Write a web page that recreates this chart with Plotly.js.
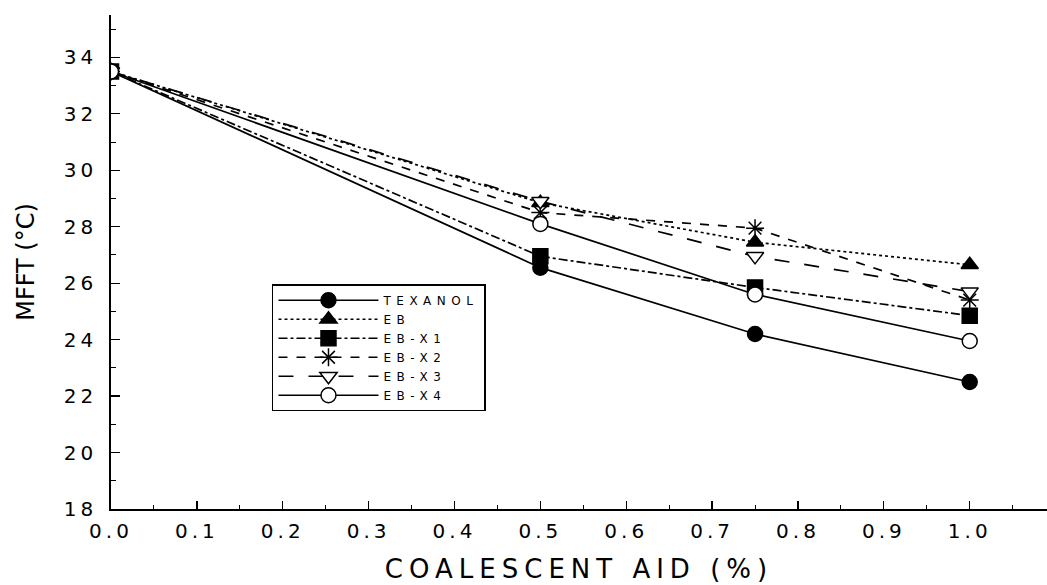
<!DOCTYPE html>
<html>
<head>
<meta charset="utf-8">
<script src="https://cdn.plot.ly/plotly-3.0.1.min.js"></script>
<style>
  html, body { margin: 0; padding: 0; background: #fff; }
  #chart { width: 1047px; height: 585px; }
  .xtick text { letter-spacing: 4px; }
  .ytick text { letter-spacing: 4px; }
  .g-xtitle text { letter-spacing: 6px; }
  .legendtext { letter-spacing: 5.5px; }
</style>
</head>
<body>
<div id="chart"></div>
<script>
const coalescentAid = [0, 0.5, 0.75, 1.0];
const seriesNames = ["TEXANOL", "EB", "EB-X1", "EB-X2", "EB-X3", "EB-X4"];
const texanol = [33.5, 26.55, 24.2, 22.5];
const eb      = [33.5, 28.85, 27.45, 26.65];
const ebX1    = [33.5, 26.95, 25.85, 24.85];
const ebX2    = [33.5, 28.5, 27.95, 25.4];
const ebX3    = [33.5, 28.9, 26.95, 25.7];
const ebX4    = [33.5, 28.1, 25.6, 23.95];
const seriesValues = [texanol, eb, ebX1, ebX2, ebX3, ebX4];

const FONT = "DejaVu Sans, Liberation Sans, Arial, sans-serif";

const styles = [
  {dash: "solid",    symbol: "circle",        fill: "#000"},
  {dash: "dot",      symbol: "triangle-up",   fill: "#000"},
  {dash: "dashdot",  symbol: "square",        fill: "#000"},
  {dash: "dash",     symbol: "asterisk-open", fill: "#000"},
  {dash: "longdash", symbol: "triangle-down", fill: "#fff"},
  {dash: "solid",    symbol: "circle",        fill: "#fff"}
];

const traces = seriesNames.map((name, i) => ({
  x: coalescentAid,
  y: seriesValues[i],
  name: name,
  type: "scatter",
  mode: "lines+markers",
  line: {color: "#000", width: 1.7, dash: styles[i].dash},
  marker: {
    symbol: styles[i].symbol,
    size: 15,
    color: styles[i].fill,
    line: {color: "#000", width: 1.5}
  }
}));

const layout = {
  width: 1047,
  height: 585,
  margin: {l: 111, r: 0, t: 15, b: 76},
  paper_bgcolor: "#fff",
  plot_bgcolor: "#fff",
  showlegend: true,
  font: {family: FONT, color: "#000"},
  xaxis: {
    range: [0, 1.09],
    tickmode: "linear",
    tick0: 0,
    dtick: 0.1,
    tickformat: ".1f",
    ticks: "inside",
    ticklen: 8,
    tickwidth: 1.3,
    tickcolor: "#000",
    minor: {dtick: 0.05, ticks: "inside", ticklen: 4, tickcolor: "#000", tickwidth: 1},
    showline: true,
    linecolor: "#000",
    linewidth: 1.8,
    showgrid: false,
    zeroline: false,
    tickfont: {size: 20, family: FONT},
    ticklabelstandoff: 3,
    title: {text: "COALESCENT AID (%)", font: {size: 26, family: FONT}, standoff: 18}
  },
  yaxis: {
    range: [18, 35.5],
    tickmode: "linear",
    tick0: 18,
    dtick: 2,
    ticks: "inside",
    ticklen: 9,
    tickwidth: 1.3,
    tickcolor: "#000",
    minor: {dtick: 1, ticks: "inside", ticklen: 5, tickcolor: "#000", tickwidth: 1},
    showline: true,
    linecolor: "#000",
    linewidth: 1.8,
    showgrid: false,
    zeroline: false,
    tickfont: {size: 20, family: FONT},
    ticklabelstandoff: 8,
    title: {text: "MFFT (°C)", font: {size: 24, family: FONT}, standoff: 22}
  },
  legend: {
    x: 0.172,
    y: 0.455,
    xanchor: "left",
    yanchor: "top",
    bgcolor: "#fff",
    bordercolor: "#000",
    borderwidth: 1.5,
    itemwidth: 100,
    font: {size: 12, family: FONT},
    tracegroupgap: 0
  }
};

Plotly.newPlot("chart", traces, layout, {displayModeBar: false, staticPlot: true});
</script>
</body>
</html>
